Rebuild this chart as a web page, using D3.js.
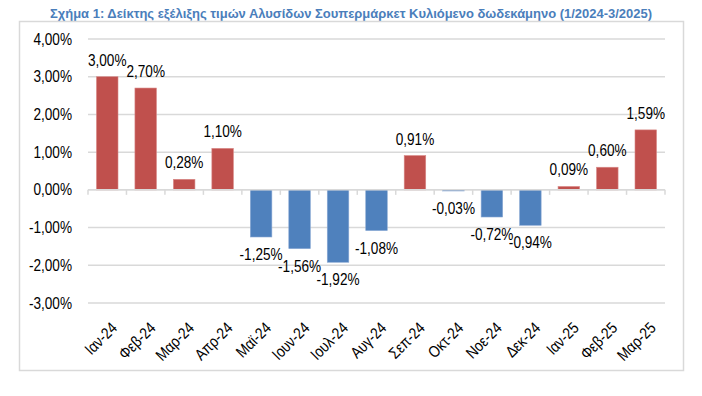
<!DOCTYPE html>
<html>
<head>
<meta charset="utf-8">
<script src="https://cdn.jsdelivr.net/npm/d3@7"></script>
<style>
  body { margin: 0; background: #fff; }
  text { font-family: "Liberation Sans", Arial, sans-serif; }
</style>
</head>
<body>
<div id="chart"></div>
<script>
// Data
const months = ["Ιαν-24", "Φεβ-24", "Μαρ-24", "Απρ-24", "Μαϊ-24", "Ιουν-24", "Ιουλ-24", "Αυγ-24",
    "Σεπ-24", "Οκτ-24", "Νοε-24", "Δεκ-24", "Ιαν-25", "Φεβ-25", "Μαρ-25"];
const changes = [3.00, 2.70, 0.28, 1.10, -1.25, -1.56, -1.92, -1.08, 0.91, -0.03, -0.72, -0.94, 0.09, 0.60, 1.59];
const yTicks = [-3, -2, -1, 0, 1, 2, 3, 4];
const title = "Σχήμα 1: Δείκτης εξέλιξης τιμών Αλυσίδων Σουπερμάρκετ Κυλιόμενο δωδεκάμηνο (1/2024-3/2025)";

const width = 702, height = 396;
const plot = { left: 88, right: 665, top: 39, bottom: 303 };
const squeeze = 0.85; // the fonts in the picture are narrow

// Greek style: comma decimal, plain hyphen for minus
const fmt = v => v.toFixed(2).replace(".", ",") + "%";

const svg = d3.select("#chart").append("svg")
    .attr("width", width)
    .attr("height", height);

// Title
svg.append("text")
    .attr("x", 351)
    .attr("y", 18)
    .attr("text-anchor", "middle")
    .attr("textLength", 602)
    .attr("lengthAdjust", "spacingAndGlyphs")
    .style("font-size", "12px")
    .style("font-weight", "bold")
    .style("fill", "#4a7ebb")
    .text(title);

// Chart border
svg.append("rect")
    .attr("x", 19.5)
    .attr("y", 21.5)
    .attr("width", 664)
    .attr("height", 349)
    .attr("fill", "none")
    .attr("stroke", "#d9d9d9")
    .attr("stroke-width", 1.5);

const x = d3.scaleBand()
    .domain(months)
    .range([plot.left, plot.right])
    .paddingInner(0.44)
    .paddingOuter(0.22);

const y = d3.scaleLinear()
    .domain([-3, 4])
    .range([plot.bottom, plot.top]);

// Gridlines
svg.append("g")
    .selectAll("line")
    .data(yTicks)
    .enter()
    .append("line")
    .attr("x1", plot.left)
    .attr("x2", plot.right)
    .attr("y1", d => y(d))
    .attr("y2", d => y(d))
    .attr("stroke", "#d9d9d9")
    .attr("stroke-width", 1.5);

// Y labels
svg.append("g")
    .selectAll("text")
    .data(yTicks)
    .enter()
    .append("text")
    .attr("transform", d => `translate(72,${y(d)}) scale(${squeeze},1)`)
    .attr("dy", "0.35em")
    .attr("text-anchor", "end")
    .style("font-size", "16px")
    .style("fill", "#000")
    .text(fmt);

// Bars
svg.append("g")
    .selectAll("rect")
    .data(changes)
    .enter()
    .append("rect")
    .attr("x", (d, i) => x(months[i]))
    .attr("width", x.bandwidth())
    .attr("y", d => y(Math.max(0, d)))
    .attr("height", d => Math.max(1, Math.abs(y(d) - y(0))))
    .attr("fill", d => d >= 0 ? "#c0504d" : "#4f81bd")
    .attr("stroke", d => d >= 0 ? "#d98a88" : "#8aa9d4")
    .attr("stroke-width", 0.6);

// Zero axis with ticks at band edges
const edges = d3.range(months.length + 1).map(i => plot.left + i * (plot.right - plot.left) / months.length);
const axis = svg.append("g");
axis.append("line")
    .attr("x1", plot.left)
    .attr("x2", plot.right)
    .attr("y1", y(0))
    .attr("y2", y(0))
    .attr("stroke", "#d9d9d9")
    .attr("stroke-width", 1.5);
axis.selectAll(".tick")
    .data(edges)
    .enter()
    .append("line")
    .attr("class", "tick")
    .attr("x1", d => d)
    .attr("x2", d => d)
    .attr("y1", y(0))
    .attr("y2", y(0) + 5)
    .attr("stroke", "#d9d9d9")
    .attr("stroke-width", 1.5);

// Value labels
svg.append("g")
    .selectAll("text")
    .data(changes)
    .enter()
    .append("text")
    .attr("transform", (d, i) => {
        const cx = x(months[i]) + x.bandwidth() / 2;
        const ty = d >= 0 ? y(d) - 11 : y(d) + 23;
        return `translate(${cx},${ty}) scale(${squeeze},1)`;
    })
    .attr("text-anchor", "middle")
    .style("font-size", "16px")
    .style("fill", "#000")
    .text(fmt);

// Month labels, rotated, at the bottom
svg.append("g")
    .selectAll("text")
    .data(months)
    .enter()
    .append("text")
    .attr("transform", d => `translate(${x(d) + x.bandwidth() / 2 + 7},${plot.bottom + 22}) rotate(-45) scale(${squeeze},1)`)
    .attr("dy", "0.35em")
    .attr("text-anchor", "end")
    .style("font-size", "16px")
    .style("fill", "#000")
    .text(d => d);
</script>
</body>
</html>
